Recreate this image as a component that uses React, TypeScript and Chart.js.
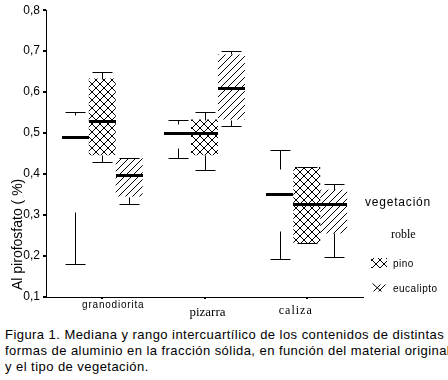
import React, { useEffect, useRef } from "react";
import { Chart, registerables } from "chart.js";

Chart.register(...registerables);

const categories = ["granodiorita", "pizarra", "caliza"];
const seriesNames = ["roble", "pino", "eucalipto"];
const yTicks = [0.1, 0.2, 0.3, 0.4, 0.5, 0.6, 0.7, 0.8];

const robleMin = [0.18, 0.44, 0.192];
const robleQ1 = [0.308, 0.463, 0.26];
const robleMed = [0.49, 0.5, 0.35];
const robleQ3 = [0.543, 0.522, 0.413];
const robleMax = [0.551, 0.531, 0.459];

const pinoMin = [0.43, 0.41, 0.231];
const pinoQ1 = [0.446, 0.446, 0.231];
const pinoMed = [0.529, 0.5, 0.325];
const pinoQ3 = [0.633, 0.533, 0.417];
const pinoMax = [0.65, 0.551, 0.417];

const eucMin = [0.328, 0.518, 0.197];
const eucQ1 = [0.345, 0.533, 0.255];
const eucMed = [0.396, 0.609, 0.325];
const eucQ3 = [0.439, 0.692, 0.362];
const eucMax = [0.439, 0.7, 0.376];

const stats = [
  { min: robleMin, q1: robleQ1, med: robleMed, q3: robleQ3, max: robleMax },
  { min: pinoMin, q1: pinoQ1, med: pinoMed, q3: pinoQ3, max: pinoMax },
  { min: eucMin, q1: eucQ1, med: eucMed, q3: eucQ3, max: eucMax },
];

function makePino(): CanvasPattern | string {
  const c = document.createElement("canvas");
  c.width = 8;
  c.height = 8;
  const g = c.getContext("2d")!;
  g.fillStyle = "#000";
  for (let i = 0; i < 8; i++) {
    g.fillRect(i, i, 1, 1);
    g.fillRect(7 - i, i, 1, 1);
  }
  const p = g.createPattern(c, "repeat");
  return p || "#ccc";
}

function makeEuc(): CanvasPattern | string {
  const c = document.createElement("canvas");
  c.width = 7;
  c.height = 7;
  const g = c.getContext("2d")!;
  g.fillStyle = "#000";
  for (let i = 0; i < 7; i++) {
    g.fillRect(i, 6 - i, 1, 1);
  }
  const p = g.createPattern(c, "repeat");
  return p || "#ddd";
}

const extras = {
  id: "boxExtras",
  afterDatasetsDraw(chart: any) {
    const ctx: CanvasRenderingContext2D = chart.ctx;
    const ys = chart.scales.y;
    const xs = chart.scales.x;
    ctx.save();
    stats.forEach((s, d) => {
      const meta = chart.getDatasetMeta(d);
      meta.data.forEach((el: any, i: number) => {
        const cx = Math.round(el.x) + 0.5;
        const w = el.width;
        const capHalf = Math.round(w * 0.37);
        const py = (v: number) => Math.round(ys.getPixelForValue(v)) + 0.5;
        ctx.strokeStyle = "#000";
        ctx.lineWidth = 1;
        ctx.beginPath();
        ctx.moveTo(cx, py(s.max[i]));
        ctx.lineTo(cx, py(s.q3[i]));
        ctx.moveTo(cx - capHalf, py(s.max[i]));
        ctx.lineTo(cx + capHalf, py(s.max[i]));
        ctx.moveTo(cx, py(s.min[i]));
        ctx.lineTo(cx, py(s.q1[i]));
        ctx.moveTo(cx - capHalf, py(s.min[i]));
        ctx.lineTo(cx + capHalf, py(s.min[i]));
        ctx.stroke();
        const ym = ys.getPixelForValue(s.med[i]);
        ctx.fillStyle = "#000";
        ctx.fillRect(Math.round(el.x - w / 2), Math.round(ym - 1.5), Math.round(w), 3);
      });
    });

    // category labels
    ctx.fillStyle = "#000";
    ctx.textBaseline = "middle";
    ctx.textAlign = "center";
    const catStyles = [
      { font: '10px "Liberation Sans", Arial, sans-serif', dx: 11, y: 305, ls: "0.8px" },
      { font: '13px "Liberation Serif", serif', dx: 3, y: 313, ls: "0px" },
      { font: '12px "Liberation Serif", serif', dx: -11, y: 311, ls: "1px" },
    ];
    categories.forEach((c, i) => {
      const st = catStyles[i];
      ctx.font = st.font;
      (ctx as any).letterSpacing = st.ls;
      ctx.fillText(c, xs.getPixelForValue(i) + st.dx, st.y);
    });
    (ctx as any).letterSpacing = "0px";

    // y title
    ctx.save();
    ctx.translate(22, 290);
    ctx.rotate(-Math.PI / 2);
    ctx.textAlign = "left";
    ctx.textBaseline = "alphabetic";
    ctx.font = '14px "Liberation Sans", Arial, sans-serif';
    ctx.fillText("Al pirofosfato ( %)", 0, 0);
    ctx.restore();

    // legend
    const ca = chart.chartArea;
    const lx = ca.right;
    ctx.textAlign = "left";
    ctx.textBaseline = "middle";
    ctx.font = '12px "Liberation Sans", Arial, sans-serif';
    (ctx as any).letterSpacing = "0.8px";
    ctx.fillText("vegetación", lx + 2, 203);
    (ctx as any).letterSpacing = "0px";
    ctx.font = '12px "Liberation Serif", serif';
    ctx.fillText(seriesNames[0], lx + 28, 235);
    // pino icon
    ctx.fillStyle = chart.data.datasets[1].backgroundColor;
    ctx.fillRect(lx + 8, 258, 16, 10);
    // eucalipto icon (crossed strokes)
    ctx.strokeStyle = "#000";
    ctx.lineWidth = 1;
    ctx.beginPath();
    ctx.moveTo(lx + 9.5, 283.5);
    ctx.lineTo(lx + 18.5, 291.5);
    ctx.moveTo(lx + 10.5, 291.5);
    ctx.lineTo(lx + 17.5, 284.5);
    ctx.moveTo(lx + 15.5, 291.5);
    ctx.lineTo(lx + 22.5, 284.5);
    ctx.stroke();
    ctx.fillStyle = "#000";
    ctx.font = '10px "Liberation Sans", Arial, sans-serif';
    (ctx as any).letterSpacing = "0.5px";
    ctx.fillText(seriesNames[1], lx + 30, 264);
    ctx.fillText(seriesNames[2], lx + 30, 289);
    (ctx as any).letterSpacing = "0px";
    ctx.restore();
  },
};

export default function App() {
  const ref = useRef<HTMLCanvasElement>(null);
  useEffect(() => {
    const pino = makePino();
    const euc = makeEuc();
    const mk = (q1: number[], q3: number[]) => categories.map((_, i) => ({ x: i, y: [q1[i], q3[i]] }));
    const chart = new Chart(ref.current!, {
      type: "bar",
      data: {
        datasets: [
          { label: seriesNames[0], data: mk(robleQ1, robleQ3) as any, backgroundColor: "rgba(0,0,0,0)", borderWidth: 0 },
          { label: seriesNames[1], data: mk(pinoQ1, pinoQ3) as any, backgroundColor: pino as any, borderWidth: 0 },
          { label: seriesNames[2], data: mk(eucQ1, eucQ3) as any, backgroundColor: euc as any, borderWidth: 0 },
        ],
      },
      options: {
        responsive: false,
        animation: false,
        devicePixelRatio: 1,
        layout: { padding: { left: 0, right: 85, top: 7, bottom: 0 } },
        datasets: { bar: { barPercentage: 1, categoryPercentage: 0.79 } },
        plugins: { legend: { display: false }, tooltip: { enabled: false } },
        scales: {
          x: {
            type: "linear",
            offset: false,
            min: -0.55,
            max: 2.55,
            afterBuildTicks: (s: any) => { s.ticks = categories.map((_, i) => ({ value: i })); },
            grid: { display: true, drawOnChartArea: false, offset: false, tickLength: 2, color: "#000", lineWidth: 2 },
            border: { display: true, color: "#000", width: 1 },
            ticks: { display: false },
            afterFit: (s: any) => { s.height = 23; },
          },
          y: {
            min: 0.1,
            max: 0.8,
            afterBuildTicks: (s: any) => { s.ticks = yTicks.map((v) => ({ value: v })); },
            grid: { display: true, drawOnChartArea: false, tickLength: 3, color: "#000", lineWidth: 2 },
            border: { display: true, color: "#000", width: 1 },
            ticks: {
              color: "#000",
              padding: 3,
              font: { family: '"Liberation Sans", Arial, sans-serif', size: 12 },
              callback: (v: any) => Number(v).toFixed(1).replace(".", ","),
            },
            afterFit: (s: any) => { s.width = 46; },
          },
        },
      },
      plugins: [extras],
    });
    return () => chart.destroy();
  }, []);
  return (
    <div style={{ position: "fixed", left: 0, top: 0, width: 448, height: 380, background: "#fff", overflow: "hidden" }}>
      <canvas ref={ref} width={448} height={320} style={{ position: "absolute", left: 0, top: 0, width: 448, height: 320 }} />
      <div style={{ position: "absolute", left: 5, top: 327, width: 443, overflow: "hidden", whiteSpace: "nowrap", fontFamily: '"Liberation Sans", Arial, sans-serif', fontSize: 13, letterSpacing: "0.45px", lineHeight: "16px", color: "#000" }}>
        <div>Figura 1. Mediana y rango intercuartílico de los contenidos de distintas</div>
        <div>formas de aluminio en la fracción sólida, en función del material original</div>
        <div>y el tipo de vegetación.</div>
      </div>
    </div>
  );
}
